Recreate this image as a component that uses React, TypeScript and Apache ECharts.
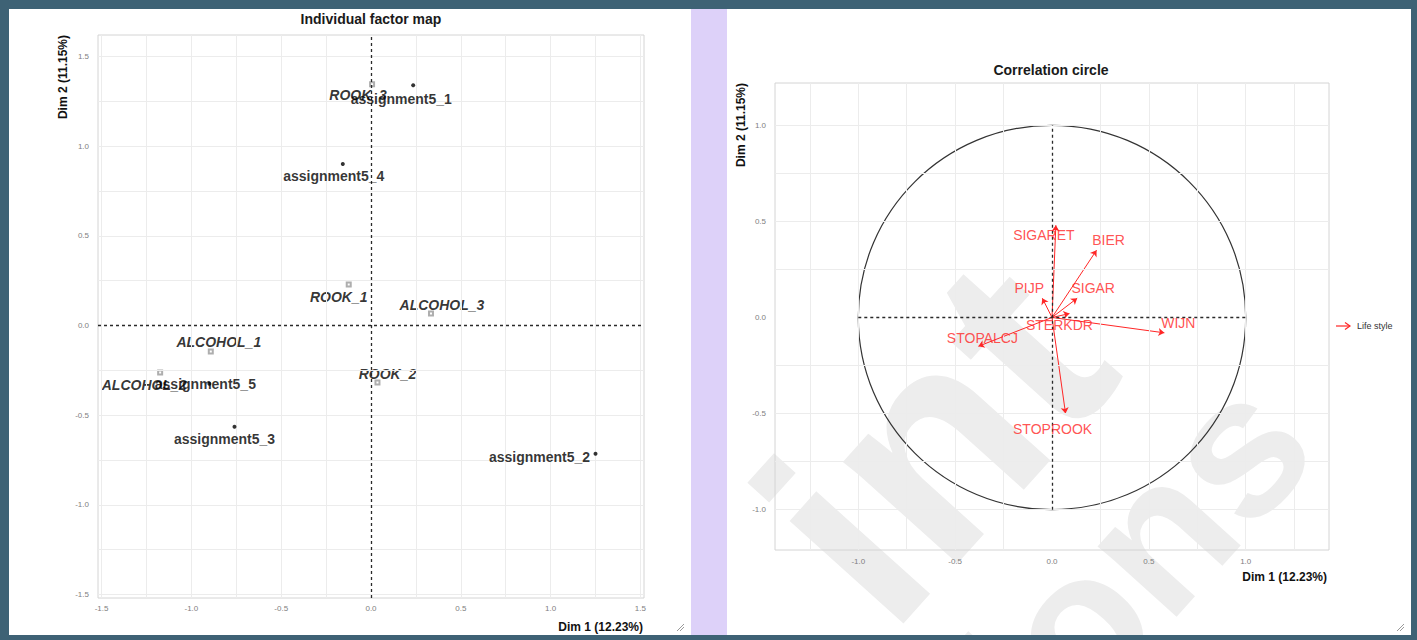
import React, { useEffect, useRef } from 'react';
import * as echarts from 'echarts';

// ---------- data ----------
const indNames = ['assignment5_1', 'assignment5_2', 'assignment5_3', 'assignment5_4', 'assignment5_5'];
const indX = [0.235, 1.25, -0.76, -0.157, -0.9];
const indY = [1.34, -0.715, -0.565, 0.9, -0.325];

const supNames = ['ROOK_1', 'ROOK_2', 'ROOK_3', 'ALCOHOL_1', 'ALCOHOL_2', 'ALCOHOL_3'];
const supX = [-0.124, 0.036, 0.006, -0.892, -1.174, 0.334];
const supY = [0.229, -0.318, 1.346, -0.145, -0.263, 0.067];

const varNames = ['SIGARET', 'BIER', 'PIJP', 'SIGAR', 'STERKDR', 'WIJN', 'STOPALCJ', 'STOPROOK'];
const varX = [0.02, 0.23, -0.05, 0.13, 0.09, 0.58, -0.38, 0.07];
const varY = [0.48, 0.35, 0.1, 0.1, 0.02, -0.08, -0.15, -0.5];

const leftGridVals = [-1.5, -1.25, -1, -0.75, -0.5, -0.25, 0.25, 0.5, 0.75, 1, 1.25, 1.5];
const rightGridX = [-1.25, -1, -0.75, -0.5, -0.25, 0.25, 0.5, 0.75, 1, 1.25];
const rightGridY = [-1, -0.75, -0.5, -0.25, 0.25, 0.5, 0.75, 1];

// label offsets (styling)
const indOffsets: Record<string, number[]> = {
  assignment5_1: [-12, 14],
  assignment5_2: [-56, 3],
  assignment5_3: [-10, 12],
  assignment5_4: [-9, 12],
  assignment5_5: [-4, 0],
};
const supOffsets: Record<string, number[]> = {
  ROOK_1: [-10, 13],
  ROOK_2: [10, -8],
  ROOK_3: [-14, 11],
  ALCOHOL_1: [8, -9],
  ALCOHOL_2: [-16, 12],
  ALCOHOL_3: [11, -8],
};
const varOffsets: Record<string, number[]> = {
  SIGARET: [-12, 10],
  BIER: [12, -10],
  PIJP: [-13, -10],
  SIGAR: [16, -10],
  STERKDR: [-10, 11],
  WIJN: [14, -10],
  STOPALCJ: [4, -8],
  STOPROOK: [-13, 15],
};

const FONT = 'Liberation Sans, Arial, Helvetica, sans-serif';
const RED = '#ff2626';

const LX = [-1.52, 1.52];
const LY = [-1.52, 1.62];
const RX = [-1.43, 1.43];
const RY = [-1.21, 1.22];

function mkAxis(gridIndex: number, min: number, max: number, margin: number) {
  return {
    type: 'value',
    gridIndex,
    min,
    max,
    axisLine: { show: false },
    axisTick: { show: true, length: 3, lineStyle: { color: '#aaaaaa' } },
    splitLine: { show: false },
    axisLabel: {
      formatter: (v: number) => v.toFixed(1),
      showMinLabel: false,
      showMaxLabel: false,
      fontSize: 8,
      color: '#808080',
      margin,
      fontFamily: FONT,
    },
  };
}

const gridLineStyle = { color: '#ececec', width: 1, type: 'solid' };
const zeroLineStyle = { color: '#2a2a2a', width: 1.3, type: [3, 3] };

const WM_ROT = (48 * Math.PI) / 180;

function buildOption() {
  const leftGridMarks = [
    ...leftGridVals.map((v) => [{ coord: [v, LY[0]] }, { coord: [v, LY[1]] }]),
    ...leftGridVals.map((v) => [{ coord: [LX[0], v] }, { coord: [LX[1], v] }]),
  ];
  const rightGridMarks = [
    ...rightGridX.map((v) => [{ coord: [v, RY[0]] }, { coord: [v, RY[1]] }]),
    ...rightGridY.map((v) => [{ coord: [RX[0], v] }, { coord: [RX[1], v] }]),
  ];

  const markBase = {
    symbol: ['none', 'none'],
    silent: true,
    label: { show: false },
    emphasis: { disabled: true },
    animation: false,
  };

  return {
    animation: false,
    backgroundColor: '#3e6275',
    textStyle: { fontFamily: FONT },
    title: [
      {
        text: 'Individual factor map',
        left: 371,
        top: 12,
        textAlign: 'center',
        padding: 0,
        textStyle: { fontSize: 14, fontWeight: 'bold', color: '#1a1a1a', fontFamily: FONT },
      },
      {
        text: 'Correlation circle',
        left: 1051,
        top: 63,
        textAlign: 'center',
        padding: 0,
        textStyle: { fontSize: 14, fontWeight: 'bold', color: '#1a1a1a', fontFamily: FONT },
      },
    ],
    grid: [
      { left: 98, top: 35, width: 546, height: 563, show: true, borderColor: '#d4d4d4', borderWidth: 1, backgroundColor: 'transparent' },
      { left: 775, top: 83, width: 554, height: 467, show: true, borderColor: '#d4d4d4', borderWidth: 1, backgroundColor: 'transparent' },
    ],
    xAxis: [mkAxis(0, LX[0], LX[1], 6), mkAxis(1, RX[0], RX[1], 7)],
    yAxis: [mkAxis(0, LY[0], LY[1], 9), mkAxis(1, RY[0], RY[1], 9)],
    graphic: {
      elements: [
        { type: 'rect', z: -20, silent: true, shape: { x: 9, y: 9, width: 682, height: 626 }, style: { fill: '#ffffff' } },
        { type: 'rect', z: -20, silent: true, shape: { x: 691, y: 9, width: 36, height: 626 }, style: { fill: '#ddd1f9' } },
        { type: 'rect', z: -20, silent: true, shape: { x: 727, y: 9, width: 684, height: 626 }, style: { fill: '#ffffff' } },
        {
          type: 'group', z: -15, silent: true,
          clipPath: { type: 'rect', shape: { x: 727, y: 9, width: 684, height: 626 } },
          children: [
            {
              type: 'text', z: -15, silent: true, x: 1160, y: 405, rotation: WM_ROT,
              style: { text: 'int', fill: '#ededed', font: `bold 290px ${FONT}`, textAlign: 'right', textVerticalAlign: 'bottom' },
            },
            {
              type: 'text', z: -15, silent: true, x: 1346, y: 474, rotation: WM_ROT,
              style: { text: 'ions', fill: '#ededed', font: `bold 200px ${FONT}`, textAlign: 'right', textVerticalAlign: 'bottom' },
            },
          ],
        },
        // axis names
        {
          type: 'text', z: 10, silent: true, x: 643, y: 627,
          style: { text: 'Dim 1 (12.23%)', fill: '#111', font: `bold 12px ${FONT}`, textAlign: 'right', textVerticalAlign: 'middle' },
        },
        {
          type: 'text', z: 10, silent: true, x: 63, y: 35, rotation: Math.PI / 2,
          style: { text: 'Dim 2 (11.15%)', fill: '#111', font: `bold 12px ${FONT}`, textAlign: 'right', textVerticalAlign: 'middle' },
        },
        {
          type: 'text', z: 10, silent: true, x: 1327, y: 577,
          style: { text: 'Dim 1 (12.23%)', fill: '#111', font: `bold 12px ${FONT}`, textAlign: 'right', textVerticalAlign: 'middle' },
        },
        {
          type: 'text', z: 10, silent: true, x: 741, y: 83, rotation: Math.PI / 2,
          style: { text: 'Dim 2 (11.15%)', fill: '#111', font: `bold 12px ${FONT}`, textAlign: 'right', textVerticalAlign: 'middle' },
        },
        // legend
        { type: 'line', z: 10, silent: true, shape: { x1: 1336, y1: 326, x2: 1350, y2: 326 }, style: { stroke: RED, lineWidth: 1.2 } },
        { type: 'polyline', z: 10, silent: true, shape: { points: [[1345, 322.5], [1350, 326], [1345, 329.5]] }, style: { stroke: RED, lineWidth: 1.2, fill: 'none' } },
        {
          type: 'text', z: 10, silent: true, x: 1357, y: 326,
          style: { text: 'Life style', fill: '#333', font: `9px ${FONT}`, textVerticalAlign: 'middle' },
        },
        // resize handles
        { type: 'line', z: 10, silent: true, shape: { x1: 677, y1: 631, x2: 684, y2: 624 }, style: { stroke: '#9a9a9a', lineWidth: 1 } },
        { type: 'line', z: 10, silent: true, shape: { x1: 680, y1: 631, x2: 684, y2: 627 }, style: { stroke: '#9a9a9a', lineWidth: 1 } },
        { type: 'line', z: 10, silent: true, shape: { x1: 1397, y1: 631, x2: 1404, y2: 624 }, style: { stroke: '#9a9a9a', lineWidth: 1 } },
        { type: 'line', z: 10, silent: true, shape: { x1: 1400, y1: 631, x2: 1404, y2: 627 }, style: { stroke: '#9a9a9a', lineWidth: 1 } },
      ],
    },
    series: [
      // left grid lines + zero lines
      {
        type: 'scatter', xAxisIndex: 0, yAxisIndex: 0, data: [], z: 1, silent: true,
        markLine: { ...markBase, lineStyle: gridLineStyle, data: leftGridMarks },
      },
      {
        type: 'scatter', xAxisIndex: 0, yAxisIndex: 0, data: [], z: 2, silent: true,
        markLine: {
          ...markBase,
          lineStyle: zeroLineStyle,
          data: [
            [{ coord: [0, LY[0]] }, { coord: [0, LY[1]] }],
            [{ coord: [LX[0], 0] }, { coord: [LX[1], 0] }],
          ],
        },
      },
      // supplementary categories
      {
        type: 'scatter', xAxisIndex: 0, yAxisIndex: 0, z: 4, silent: true,
        symbol: 'emptyRect', symbolSize: 4,
        itemStyle: { color: '#9a9a9a', borderColor: '#9a9a9a', borderWidth: 1 },
        data: supNames.map((n, i) => ({
          name: n,
          value: [supX[i], supY[i]],
          label: { offset: supOffsets[n] },
        })),
        label: {
          show: true, position: 'inside', formatter: '{b}', color: '#000000',
          fontSize: 14, fontWeight: 'bold', fontStyle: 'italic', fontFamily: FONT,
        },
      },
      // individuals
      {
        type: 'scatter', xAxisIndex: 0, yAxisIndex: 0, z: 5, silent: true,
        symbol: 'circle', symbolSize: 4,
        itemStyle: { color: '#000000' },
        data: indNames.map((n, i) => ({
          name: n,
          value: [indX[i], indY[i]],
          label: { offset: indOffsets[n] },
        })),
        label: {
          show: true, position: 'inside', formatter: '{b}', color: '#000000',
          fontSize: 14, fontWeight: 'bold', fontFamily: FONT,
        },
      },
      // right grid lines
      {
        type: 'scatter', xAxisIndex: 1, yAxisIndex: 1, data: [], z: 1, silent: true,
        markLine: { ...markBase, lineStyle: gridLineStyle, data: rightGridMarks },
      },
      {
        type: 'scatter', xAxisIndex: 1, yAxisIndex: 1, data: [], z: 2, silent: true,
        markLine: {
          ...markBase,
          lineStyle: zeroLineStyle,
          data: [
            [{ coord: [-1, 0] }, { coord: [1, 0] }],
            [{ coord: [0, -1] }, { coord: [0, 1] }],
          ],
        },
      },
      // unit circle
      {
        type: 'custom', xAxisIndex: 1, yAxisIndex: 1, z: 3, silent: true,
        data: [[0, 0]],
        renderItem: (_p: any, api: any) => {
          const c = api.coord([0, 0]);
          const s = api.size([1, 1]);
          return {
            type: 'ellipse',
            shape: { cx: c[0], cy: c[1], rx: s[0], ry: s[1] },
            style: { fill: 'none', stroke: '#333333', lineWidth: 1.2 },
          };
        },
      },
      // arrows
      {
        type: 'lines', coordinateSystem: 'cartesian2d', xAxisIndex: 1, yAxisIndex: 1, z: 4, silent: true,
        symbol: ['none', 'arrow'], symbolSize: 6,
        lineStyle: { color: RED, width: 1, opacity: 1, curveness: 0 },
        data: varNames.map((n, i) => ({ name: n, coords: [[0, 0], [varX[i], varY[i]]] })),
      },
      // arrow labels
      {
        type: 'scatter', xAxisIndex: 1, yAxisIndex: 1, z: 5, silent: true,
        symbolSize: 0.1, itemStyle: { color: RED },
        data: varNames.map((n, i) => ({
          name: n,
          value: [varX[i], varY[i]],
          label: { offset: varOffsets[n] },
        })),
        label: {
          show: true, position: 'inside', formatter: '{b}', color: RED,
          fontSize: 14, fontFamily: FONT,
        },
      },
    ],
  };
}

export default function App() {
  const ref = useRef<HTMLDivElement>(null);
  useEffect(() => {
    if (!ref.current) return;
    const chart = echarts.init(ref.current, null, { renderer: 'svg' });
    chart.setOption(buildOption() as any);
    return () => chart.dispose();
  }, []);
  return (
    <div
      ref={ref}
      style={{ position: 'fixed', left: 0, top: 0, width: 1417, height: 640 }}
    />
  );
}
